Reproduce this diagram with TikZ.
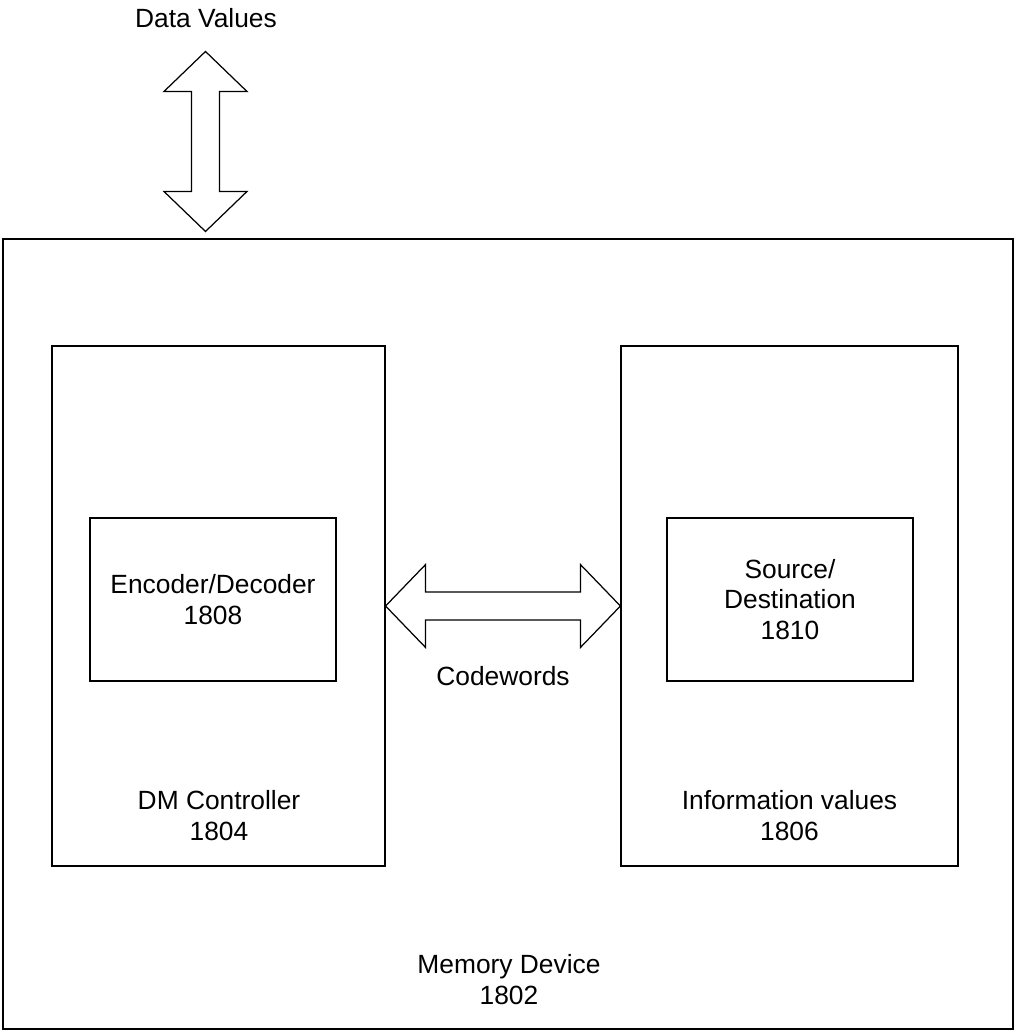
\documentclass[tikz,border=0pt]{standalone}
\usepackage{fontspec}
\setmainfont{Liberation Sans}
\usetikzlibrary{calc,positioning}
\newcommand{\widearrow}[2]{%
  \filldraw[fill=white,line width=0.7pt] (#1)
    -- ($(#1)!0.8cm!(#2)!0.83cm!90:(#2)$)
    -- ($(#1)!0.8cm!(#2)!0.28cm!90:(#2)$)
    -- ($(#2)!0.8cm!(#1)!0.28cm!-90:(#1)$)
    -- ($(#2)!0.8cm!(#1)!0.83cm!-90:(#1)$)
    -- (#2)
    -- ($(#2)!0.8cm!(#1)!0.83cm!90:(#1)$)
    -- ($(#2)!0.8cm!(#1)!0.28cm!90:(#1)$)
    -- ($(#1)!0.8cm!(#2)!0.28cm!-90:(#2)$)
    -- ($(#1)!0.8cm!(#2)!0.83cm!-90:(#2)$)
    -- cycle;}

\begin{document}
\begin{tikzpicture}[x=0.02cm,y=-0.02cm,
		box/.style={draw,line width=0.7pt,inner sep=0pt},
		lbl/.style={align=center,font=\fontsize{15}{17.6}\selectfont}]
\useasboundingbox (0,0) rectangle (1016,1036);
% boxes
\node[box,minimum width=20.2cm,minimum height=15.8cm] (mem) at (508,634) {};
\node[box,minimum width=6.66cm,minimum height=10.4cm] (dm) at (218.5,606) {};
\node[box,minimum width=6.74cm,minimum height=10.4cm] (info) at (789.5,606) {};
\node[box,lbl,minimum width=4.92cm,minimum height=3.26cm] (enc) at (213,599.5) {Encoder/Decoder\\1808};
\node[box,lbl,minimum width=4.92cm,minimum height=3.26cm] (src) at (790,599.5) {Source/\\Destination\\1810};
% labels
\node[lbl] (memlbl) at (509,980) {Memory Device\\1802};
\node[lbl] (dmlbl) at (219,816) {DM Controller\\1804};
\node[lbl] (infolbl) at (789.5,816) {Information values\\1806};
\node[lbl] (cwlbl) at (503,676) {Codewords};
\node[lbl] (dvlbl) at (206,18) {Data Values};
% arrows
\coordinate (dvbot) at ($(mem.north west)+(203,-7)$);
\coordinate (dvtop) at ($(dvbot)+(0,-180)$);
\widearrow{dvtop}{dvbot}
\widearrow{dm.east}{info.west}
\end{tikzpicture}
\end{document}
